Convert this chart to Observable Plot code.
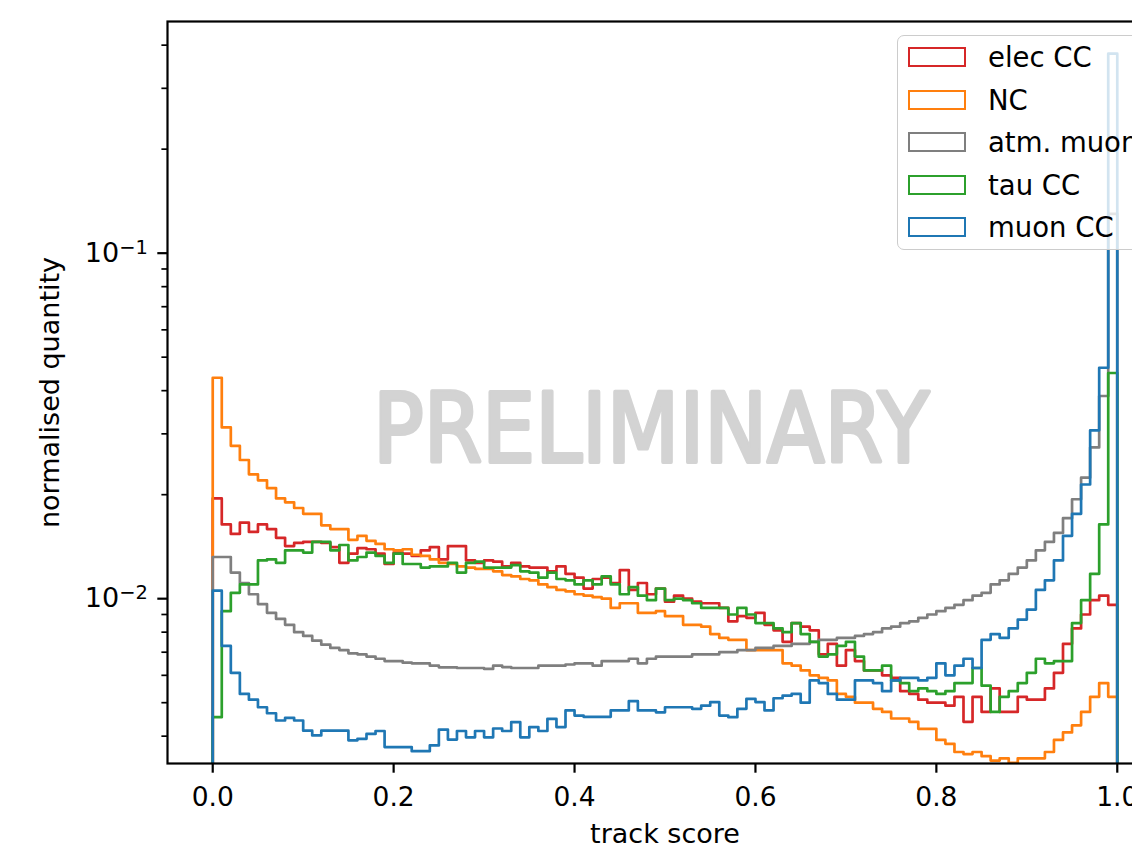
<!DOCTYPE html>
<html><head><meta charset="utf-8">
<script src="https://cdn.jsdelivr.net/npm/d3@7"></script>
<script src="https://cdn.jsdelivr.net/npm/@observablehq/plot@0.6"></script>
<style>
html,body{margin:0;padding:0;background:#fff;overflow:hidden;}
#wrap{position:relative;width:1132px;height:847px;overflow:hidden;}
#legend{position:absolute;left:897px;top:35px;width:251px;height:215px;border:1.5px solid #cccccc;border-radius:7px;background:rgba(255,255,255,0.8);box-sizing:border-box;font-family:"DejaVu Sans";font-size:27.5px;color:#000;}
.item{position:absolute;left:10px;height:20px;display:flex;align-items:center;}
.sw{width:58px;height:20px;box-sizing:border-box;border:2.6px solid;flex:none;}
.lab{margin-left:22px;white-space:nowrap;line-height:20px;}
</style></head>
<body><div id="wrap"><div id="legend"></div></div>
<script>
// ---- data (normalised quantity per bin, 100 bins of track score 0..1) ----
const seriesNames = ["elec CC", "NC", "atm. muon", "tau CC", "muon CC"];
const seriesColors = ["#d62728", "#ff7f0e", "#7f7f7f", "#2ca02c", "#1f77b4"];

const elecCC = [
0.0195,0.0164,0.0154,0.0166,0.0156,0.0164,0.0159,0.0150,0.0142,0.0145,
0.0146,0.0146,0.0145,0.0141,0.0127,0.0135,0.0140,0.0139,0.0135,0.0126,
0.0136,0.0135,0.0133,0.0138,0.0141,0.0130,0.0142,0.0142,0.0129,0.0127,
0.0129,0.0128,0.0124,0.0127,0.0124,0.0123,0.0123,0.0120,0.0124,0.0118,
0.0115,0.0107,0.0114,0.0115,0.0111,0.0121,0.0106,0.0111,0.0103,0.0107,
0.0098,0.0102,0.0100,0.0098,0.0097,0.0097,0.0094,0.0086,0.0089,0.0088,
0.0091,0.0084,0.0081,0.0075,0.0085,0.0083,0.0081,0.0069,0.0074,0.0064,
0.0071,0.0066,0.0062,0.0062,0.0060,0.0059,0.0054,0.0053,0.0051,0.0050,
0.0050,0.0049,0.0052,0.0044,0.0052,0.0047,0.0055,0.0047,0.0047,0.0052,
0.0051,0.0051,0.0055,0.0061,0.0074,0.0082,0.0090,0.0099,0.0102,0.0096];

const nc = [
0.0436,0.0313,0.0277,0.0252,0.0229,0.0220,0.0209,0.0195,0.0190,0.0183,
0.0176,0.0176,0.0163,0.0159,0.0159,0.0148,0.0152,0.0147,0.0144,0.0139,
0.0138,0.0139,0.0134,0.0133,0.0130,0.0127,0.0126,0.0124,0.0123,0.0122,
0.0122,0.0120,0.0117,0.0116,0.0114,0.0113,0.0110,0.0108,0.0106,0.0105,
0.0103,0.0102,0.0101,0.0100,0.0094,0.0097,0.0097,0.0091,0.0091,0.0092,
0.0089,0.0089,0.0084,0.0084,0.0083,0.0079,0.0077,0.0076,0.0076,0.0071,
0.0071,0.0071,0.0071,0.0065,0.0064,0.0062,0.0060,0.0059,0.0058,0.0053,
0.0052,0.0050,0.0050,0.0048,0.0047,0.0045,0.0045,0.0044,0.0042,0.0042,
0.0039,0.0038,0.0036,0.00355,0.0036,0.0035,0.0034,0.00345,0.00335,0.00345,
0.00345,0.00345,0.0036,0.0039,0.0041,0.0043,0.0047,0.0052,0.0057,0.0052];

const atmMuon = [
0.0132,0.0132,0.0119,0.0111,0.0103,0.00965,0.0091,0.00874,0.0084,0.0080,
0.0078,0.00756,0.00736,0.0072,0.0071,0.00695,0.0069,0.0068,0.0067,0.0066,
0.0066,0.00653,0.0065,0.0065,0.0064,0.00633,0.00633,0.0063,0.0063,0.0063,
0.00626,0.0064,0.00634,0.0063,0.0063,0.0063,0.0064,0.0064,0.0064,0.00645,
0.0065,0.0065,0.0064,0.0066,0.0066,0.0066,0.0067,0.0065,0.0067,0.0068,
0.0068,0.0068,0.0068,0.0069,0.0069,0.0069,0.0070,0.0070,0.0071,0.0071,
0.0072,0.0072,0.0073,0.0073,0.0074,0.0074,0.0075,0.0076,0.0076,0.0077,
0.0077,0.0078,0.0079,0.0080,0.0082,0.0083,0.0085,0.0086,0.0088,0.0090,
0.0092,0.0094,0.0096,0.0099,0.0102,0.0104,0.0110,0.0113,0.0118,0.0123,
0.0129,0.0138,0.0146,0.0155,0.0171,0.0194,0.0224,0.0274,0.0386,0.13];

const tauCC = [
0.00454,0.0092,0.0104,0.0110,0.0110,0.0129,0.0130,0.0127,0.0138,0.0138,
0.0136,0.0146,0.0146,0.0138,0.0143,0.0129,0.0132,0.0136,0.0133,0.0127,
0.0135,0.0126,0.0126,0.0123,0.0124,0.0124,0.0127,0.0119,0.0127,0.0128,
0.0123,0.0123,0.0123,0.0125,0.0120,0.0119,0.0115,0.0119,0.0114,0.0113,
0.0110,0.0113,0.0110,0.0116,0.0110,0.0103,0.0108,0.0102,0.0099,0.0107,
0.0099,0.0100,0.0099,0.0097,0.0094,0.0094,0.0094,0.0090,0.0094,0.0090,
0.0085,0.0085,0.0082,0.0080,0.0085,0.0079,0.0075,0.0068,0.0069,0.0073,
0.0075,0.0068,0.0062,0.0062,0.0064,0.0058,0.0057,0.0054,0.0055,0.0054,
0.0053,0.0054,0.0057,0.0057,0.0063,0.0056,0.0047,0.0052,0.0054,0.0057,
0.0061,0.0067,0.0065,0.0066,0.0066,0.0085,0.0099,0.0118,0.0164,0.0450];

const muonCC = [
0.01055,0.0073,0.0061,0.0053,0.0051,0.00485,0.00466,0.00444,0.00452,0.00444,
0.00415,0.00402,0.00415,0.00415,0.00415,0.00389,0.00393,0.00406,0.00414,0.00372,
0.00372,0.00372,0.00362,0.00362,0.00376,0.00418,0.00391,0.00414,0.00397,0.00414,
0.00397,0.00421,0.00414,0.00439,0.00397,0.00425,0.00414,0.00449,0.00425,0.00475,
0.00459,0.00455,0.00455,0.00455,0.00475,0.00475,0.00505,0.00475,0.00475,0.00469,
0.00485,0.00485,0.00485,0.0048,0.0049,0.00502,0.00459,0.00454,0.0048,0.00513,
0.00502,0.00475,0.00515,0.00524,0.0053,0.0050,0.0058,0.0057,0.0053,0.0051,
0.0051,0.0058,0.0058,0.0057,0.0054,0.0058,0.0059,0.0059,0.0058,0.0059,
0.0065,0.0060,0.0064,0.0067,0.0063,0.0076,0.0079,0.0077,0.0082,0.0087,
0.0093,0.0106,0.0113,0.0129,0.0152,0.0176,0.0214,0.0307,0.0466,0.378];

const seriesValues = [elecCC, nc, atmMuon, tauCC, muonCC];

const xTicks = [0, 0.2, 0.4, 0.6, 0.8, 1.0];
const yMajorTicks = [0.01, 0.1];
const yMinorTicks = [0.004,0.005,0.006,0.007,0.008,0.009,0.02,0.03,0.04,0.05,0.06,0.07,0.08,0.09,0.2,0.3,0.4];

// ---- build step-histogram outlines ----
const binCount = 100;
const binEdges = d3.range(binCount).map(i => i / binCount);
const floorValue = 1e-4; // below the axis: outline drops to the bottom like matplotlib
function stepRows(values) {
  const rows = [{x: 0, y: floorValue}];
  values.forEach((v, i) => rows.push({x: binEdges[i], y: v}));
  rows.push({x: 1, y: values[values.length - 1]});
  rows.push({x: 1, y: floorValue});
  return rows;
}

const pow10 = d => "10^" + String(Math.round(Math.log10(d))).replace("-", "\u2212");

const FONT = "DejaVu Sans";
const lineMarks = seriesValues.map((vals, k) =>
  Plot.line(stepRows(vals), {x: "x", y: "y", curve: "step-after", stroke: seriesColors[k], strokeWidth: 2.7, clip: true}));

const plot = Plot.plot({
  width: 1162, height: 847,
  marginLeft: 167, marginRight: 0, marginTop: 21, marginBottom: 84,
  style: {fontFamily: FONT, maxWidth: "none", background: "white", color: "black"},
  x: {domain: [-0.05, 1.05]},
  y: {type: "log", domain: [0.003334, 0.4683]},
  marks: [
    Plot.text(["PRELIMINARY"], {text: d => d, frameAnchor: "middle", dx: -14, dy: 39, fontSize: 96, fontWeight: "normal", fill: "#d3d3d3", stroke: "#d3d3d3", strokeWidth: 4, strokeLinejoin: "round", fontFamily: FONT}),
    ...lineMarks,
    Plot.frame({stroke: "black", strokeWidth: 2.2}),
    Plot.axisX({ticks: xTicks, tickSize: 9.7, tickPadding: 14, tickFormat: d3.format(".1f"), fontSize: 26.5, strokeWidth: 2.2, label: null}),
    Plot.axisY({ticks: yMajorTicks, tickSize: 9.7, tickPadding: 10, tickFormat: pow10, fontSize: 27, strokeWidth: 2.2, label: null}),
    Plot.axisY({ticks: yMinorTicks, tickSize: 5.6, fill: "none", strokeWidth: 1.7, label: null}),
    Plot.text(["track score"], {text: d => d, frameAnchor: "bottom", dy: 79, lineAnchor: "bottom", fontSize: 27, fontFamily: FONT}),
    Plot.text(["normalised quantity"], {text: d => d, frameAnchor: "left", dx: -117, rotate: -90, textAnchor: "middle", lineAnchor: "middle", fontSize: 27, fontFamily: FONT})
  ]
});
document.getElementById("wrap").prepend(plot);

// stretch watermark to its measured width
d3.select(plot).selectAll("text").filter(function() { return this.textContent === "PRELIMINARY"; })
  .attr("textLength", 556).attr("lengthAdjust", "spacingAndGlyphs");

// mathtext-like exponents on the y tick labels: "10^−1" -> 10 with a raised smaller exponent
d3.select(plot).selectAll("text").each(function() {
  const t = this.textContent;
  if (!/^10\^/.test(t)) return;
  const exp = t.slice(3);
  const sel = d3.select(this);
  const tsp = sel.select("tspan");
  const target = tsp.empty() ? sel : tsp;
  target.text(null);
  target.append("tspan").text("10");
  target.append("tspan").attr("dy", "-0.42em").attr("font-size", "0.72em").text(exp);
});

// legend
const legend = document.getElementById("legend");
seriesNames.forEach((name, k) => {
  const item = document.createElement("div");
  item.className = "item";
  item.style.top = (11 + k * 42.5) + "px";
  const sw = document.createElement("div");
  sw.className = "sw";
  sw.style.borderColor = seriesColors[k];
  const lab = document.createElement("span");
  lab.className = "lab";
  lab.textContent = name;
  item.append(sw, lab);
  legend.append(item);
});
</script>
</body></html>
